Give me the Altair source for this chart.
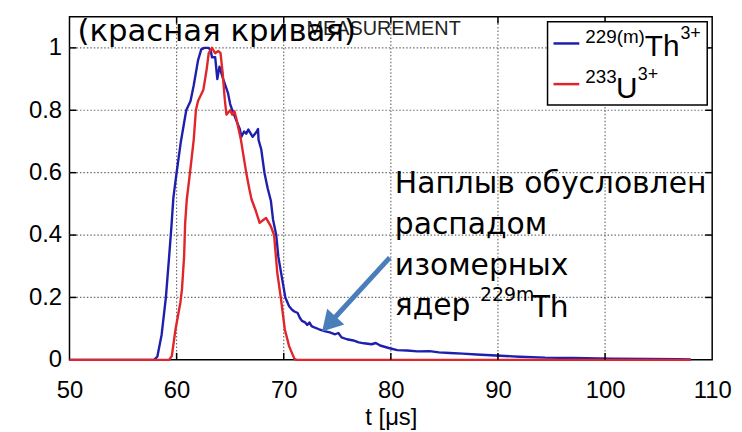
import altair as alt
import pandas as pd

# ---- data ----
th_t = [50.0, 57.9, 58.2, 58.6, 59.0, 59.3, 59.5, 59.7, 60.0, 60.4, 60.9, 61.3, 61.6, 62.0, 62.3,
        62.6, 63.0, 63.2, 63.3, 63.6, 63.8, 64.0, 64.35, 64.65, 64.8, 65.0, 65.2, 65.6, 65.9,
        66.05, 66.3, 66.5, 66.7, 67.1, 67.4, 67.6, 67.65, 67.9, 68.2, 68.5, 68.8, 69.0, 69.3,
        69.5, 69.9, 70.15, 70.5, 70.8, 71.0, 71.3, 71.5, 71.7, 72.0, 72.2, 72.4, 72.6, 72.8,
        73.3, 73.8, 74.3, 74.8, 75.1, 75.4, 75.9, 76.5, 77.0, 77.5, 78.2, 78.6, 79.0, 79.8,
        80.6, 81.5, 82.5, 83.6, 84.5, 85.5, 86.7, 88.0, 89.8, 92.0, 94.4, 97.0, 100.6, 104.0,
        106.8, 108.0]
th_y = [0.0, 0.0, 0.01, 0.08, 0.20, 0.33, 0.42, 0.52, 0.60, 0.70, 0.80, 0.83, 0.88, 0.96, 0.995,
        1.0, 1.0, 0.99, 0.97, 0.97, 0.90, 0.94, 0.90, 0.87, 0.855, 0.82, 0.80, 0.765, 0.74,
        0.715, 0.732, 0.725, 0.738, 0.715, 0.728, 0.74, 0.705, 0.675, 0.60, 0.55, 0.51, 0.45, 0.40,
        0.33, 0.25, 0.20, 0.172, 0.16, 0.155, 0.15, 0.135, 0.125, 0.12, 0.112, 0.12, 0.108, 0.105,
        0.098, 0.092, 0.088, 0.082, 0.086, 0.072, 0.066, 0.062, 0.056, 0.053, 0.050, 0.054, 0.046, 0.038,
        0.031, 0.030, 0.027, 0.028, 0.024, 0.022, 0.020, 0.017, 0.014, 0.010, 0.007, 0.006, 0.004, 0.003,
        0.002, 0.001]

u_t = [50.0, 59.3, 59.55, 59.9, 60.35, 60.5, 60.7, 60.8, 60.95, 61.25, 61.6, 61.8, 62.0, 62.5,
       62.8, 63.0, 63.3, 63.6, 63.9, 64.1, 64.3, 64.5, 64.65, 65.0, 65.2, 65.4, 65.6, 66.0, 66.5,
       66.8, 67.0, 67.35, 67.75, 68.15, 68.35, 68.8, 69.1, 69.4, 69.75, 70.1, 70.5, 71.0, 71.2, 108.0]
u_y = [0.0, 0.0, 0.012, 0.098, 0.183, 0.226, 0.332, 0.44, 0.514, 0.60, 0.706, 0.80, 0.83, 0.866,
       0.93, 0.983, 1.0, 0.983, 0.99, 0.983, 0.919, 0.834, 0.786, 0.80, 0.786, 0.797, 0.77, 0.706, 0.60,
       0.546, 0.514, 0.482, 0.439, 0.45, 0.455, 0.428, 0.40, 0.279, 0.194, 0.098, 0.044, 0.003, 0.0, 0.0]

x_ticks = [50, 60, 70, 80, 90, 100, 110]
y_ticks = [0, 0.2, 0.4, 0.6, 0.8, 1.0]

# annotation arrow (tail, head) in data units
arrow_t = [79.9, 74.22]
arrow_y = [0.3275, 0.1148]

BLUE = "#1f1fae"
RED = "#e0262a"
ARROW = "#4a7ebb"
GRID = "#6e6e6e"

th_df = pd.DataFrame({"t": th_t, "v": th_y})
u_df = pd.DataFrame({"t": u_t, "v": u_y})
arrow_df = pd.DataFrame({"t": [arrow_t[0]], "v": [arrow_y[0]], "t2": [arrow_t[1]], "v2": [arrow_y[1]]})
head_df = pd.DataFrame({"t": [arrow_t[1]], "v": [arrow_y[1]]})
one = pd.DataFrame({"k": [0]})

xs = alt.Scale(domain=[x_ticks[0], x_ticks[-1]], nice=False, zero=False)
ys = alt.Scale(domain=[0, 1.1], nice=False, zero=False)

x_axis = alt.Axis(values=x_ticks, grid=False, domain=False, ticks=False, tickSize=0,
                  labelFont="Liberation Sans", labelFontSize=24, labelColor="black", labelPadding=19,
                  title="t [μs]", titleFont="Liberation Sans", titleFontSize=24,
                  titleFontWeight="normal", titleColor="black", titleY=58, titleBaseline="middle",
                  labelFlush=False)
y_axis = alt.Axis(values=y_ticks, grid=False, domain=False, ticks=False, tickSize=0,
                  labelFont="Liberation Sans", labelFontSize=24, labelColor="black", labelPadding=8,
                  format="~g", title=None, labelFlush=False)

X = lambda f: alt.X(f, scale=xs, axis=x_axis)
Y = lambda f: alt.Y(f, scale=ys, axis=y_axis)

# dotted grid (matlab style) drawn from the tick arrays
grid_x_df = pd.DataFrame({"t": x_ticks[1:-1]})
grid_y_df = pd.DataFrame({"v": y_ticks[1:]})
grid_x = alt.Chart(grid_x_df).mark_rule(color=GRID, strokeWidth=1.2, strokeDash=[1.5, 2]).encode(
    x=X("t:Q"), y=alt.value(0), y2=alt.value(346))
grid_y = alt.Chart(grid_y_df).mark_rule(color=GRID, strokeWidth=1.2, strokeDash=[1.5, 2]).encode(
    y=Y("v:Q"), x=alt.value(0), x2=alt.value(648))

blue_line = alt.Chart(th_df).mark_line(color=BLUE, strokeWidth=2.4, strokeJoin="round").encode(
    x=X("t:Q"), y=Y("v:Q"), order="t:Q")
red_line = alt.Chart(u_df).mark_line(color=RED, strokeWidth=2.4, strokeJoin="round").encode(
    x=X("t:Q"), y=Y("v:Q"), order="t:Q")

# inward ticks
tick_bottom = alt.Chart(grid_x_df).mark_rule(color="black", strokeWidth=1.5).encode(
    x=X("t:Q"), y=alt.value(346), y2=alt.value(339))
tick_top = alt.Chart(grid_x_df).mark_rule(color="black", strokeWidth=1.5).encode(
    x=X("t:Q"), y=alt.value(0), y2=alt.value(7))
tick_left = alt.Chart(grid_y_df).mark_rule(color="black", strokeWidth=1.5).encode(
    y=Y("v:Q"), x=alt.value(0), x2=alt.value(7))
tick_right = alt.Chart(grid_y_df).mark_rule(color="black", strokeWidth=1.5).encode(
    y=Y("v:Q"), x=alt.value(648), x2=alt.value(641))

# legend (drawn by hand for superscripts)
legend_box = alt.Chart(one).mark_rect(fill="white", stroke="black", strokeWidth=1.5).encode(
    x=alt.value(482), x2=alt.value(643), y=alt.value(5), y2=alt.value(89))
leg_line1 = alt.Chart(one).mark_rule(color=BLUE, strokeWidth=2.5).encode(
    x=alt.value(488), x2=alt.value(514), y=alt.value(27))
leg_line2 = alt.Chart(one).mark_rule(color=RED, strokeWidth=2.5).encode(
    x=alt.value(488), x2=alt.value(514), y=alt.value(68))

def txt(s, x, y, size, font="Liberation Sans", color="black"):
    return alt.Chart(one).mark_text(text=s, align="left", baseline="alphabetic", font=font,
                                    fontSize=size, color=color).encode(
        x=alt.value(x), y=alt.value(y))

leg_texts = [
    txt("229(m)", 520, 27, 19), txt("Th", 580, 40, 30), txt("3+", 616, 23, 18),
    txt("233", 520, 67, 19), txt("U", 551, 82, 30), txt("3+", 573, 64, 18),
]

measurement = txt("MEASUREMENT", 239, 18, 20, color="#222222")
red_curve_note = txt("(красная кривая)", 8, 25, 31, font="DejaVu Sans")

note = alt.Chart(one).mark_text(
    text=["Наплыв обусловлен", "распадом", "изомерных", "ядер"],
    align="left", baseline="alphabetic", font="DejaVu Sans", fontSize=30, lineHeight=41,
    color="black").encode(x=alt.value(328), y=alt.value(178))
note_sup = txt("229m", 414, 287, 19, font="DejaVu Sans")
note_th = txt("Th", 466, 303, 30, font="DejaVu Sans")

arrow_shaft = alt.Chart(arrow_df).mark_rule(color=ARROW, strokeWidth=5).encode(
    x=X("t:Q"), y=Y("v:Q"), x2="t2:Q", y2="v2:Q")
arrow_head = alt.Chart(head_df).mark_point(shape="triangle-up", filled=True, fill=ARROW, color=ARROW,
                                           opacity=1, size=550, angle=222.6, strokeWidth=0).encode(
    x=X("t:Q"), y=Y("v:Q"))

chart = alt.layer(
    grid_x, grid_y, blue_line, red_line, tick_bottom, tick_top, tick_left, tick_right,
    legend_box, leg_line1, leg_line2, *leg_texts,
    measurement, red_curve_note, arrow_shaft, arrow_head, note, note_sup, note_th,
).properties(
    width=648, height=346,
    autosize=alt.AutoSizeParams(type="none"),
    padding={"left": 62, "top": 7, "right": 22, "bottom": 70},
    background="white",
).configure_view(stroke="black", strokeWidth=1.5)

chart.save("out.html", embed_options={"renderer": "svg", "actions": False})
